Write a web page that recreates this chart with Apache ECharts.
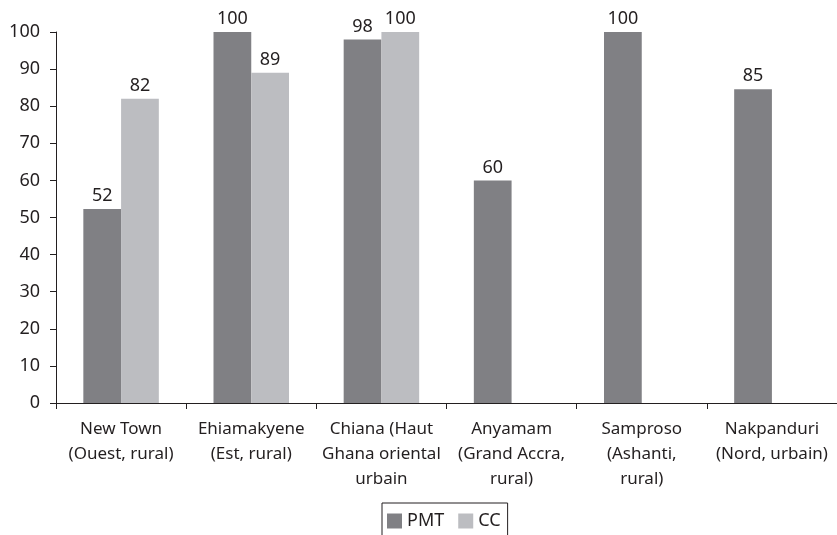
<!DOCTYPE html>
<html><head><meta charset="utf-8">
<script src="https://cdn.jsdelivr.net/npm/echarts@6/dist/echarts.min.js"></script>
<style>html,body{margin:0;padding:0;background:#fff}#c{width:837px;height:535px}</style>
</head><body><div id="c"></div>
<script>
const categories = ["New Town\n(Ouest, rural)", "Ehiamakyene\n(Est, rural)", "Chiana (Haut\nGhana oriental\nurbain", "Anyamam\n(Grand Accra,\nrural)", "Samproso\n(Ashanti,\nrural)", "Nakpanduri\n(Nord, urbain)"];
const pmt = [52.3, 100, 98, 60, 100, 84.6];
const cc = [82, 89, 100, null, null, null];
const yTicks = [0, 10, 20, 30, 40, 50, 60, 70, 80, 90, 100];

const font = "Noto Sans";
const txt = '#231f20';
const lbl = {show: true, position: 'top', fontFamily: font, fontSize: 18, color: txt, distance: 4,
  formatter: p => String(Math.round(p.value))};
const chart = echarts.init(document.getElementById('c'));
chart.setOption({
  animation: false,
  textStyle: {fontFamily: font},
  grid: {left: 56, right: 0, top: 32, bottom: 132, containLabel: false},
  legend: {
    data: ["PMT", "CC"], top: 503, left: 382,
    itemWidth: 15, itemHeight: 15, itemGap: 14,
    icon: 'rect',
    borderColor: '#231f20', borderWidth: 1, padding: [9, 7, 20, 5],
    textStyle: {fontFamily: font, fontSize: 18, color: txt}
  },
  xAxis: {
    type: 'category', data: categories,
    axisLine: {lineStyle: {color: txt, width: 1}},
    axisTick: {show: true, length: 6, lineStyle: {color: txt}},
    axisLabel: {fontFamily: font, fontSize: 17, color: txt, lineHeight: 25, margin: 14, interval: 0}
  },
  yAxis: {
    type: 'value', min: 0, max: 100, interval: 10,
    splitLine: {show: false},
    axisLine: {show: true, lineStyle: {color: txt, width: 1}},
    axisTick: {show: true, length: 6, lineStyle: {color: txt}},
    axisLabel: {fontFamily: font, fontSize: 18, color: txt, margin: 16,
      formatter: v => yTicks.includes(v) ? String(v) : ''}
  },
  series: [
    {name: 'PMT', type: 'bar', data: pmt, barGap: '0%', barCategoryGap: '42%',
     itemStyle: {color: '#808084'}, label: lbl},
    {name: 'CC', type: 'bar', data: cc, barGap: '0%', barCategoryGap: '42%',
     itemStyle: {color: '#bcbdc1'}, label: lbl}
  ]
});
</script></body></html>
